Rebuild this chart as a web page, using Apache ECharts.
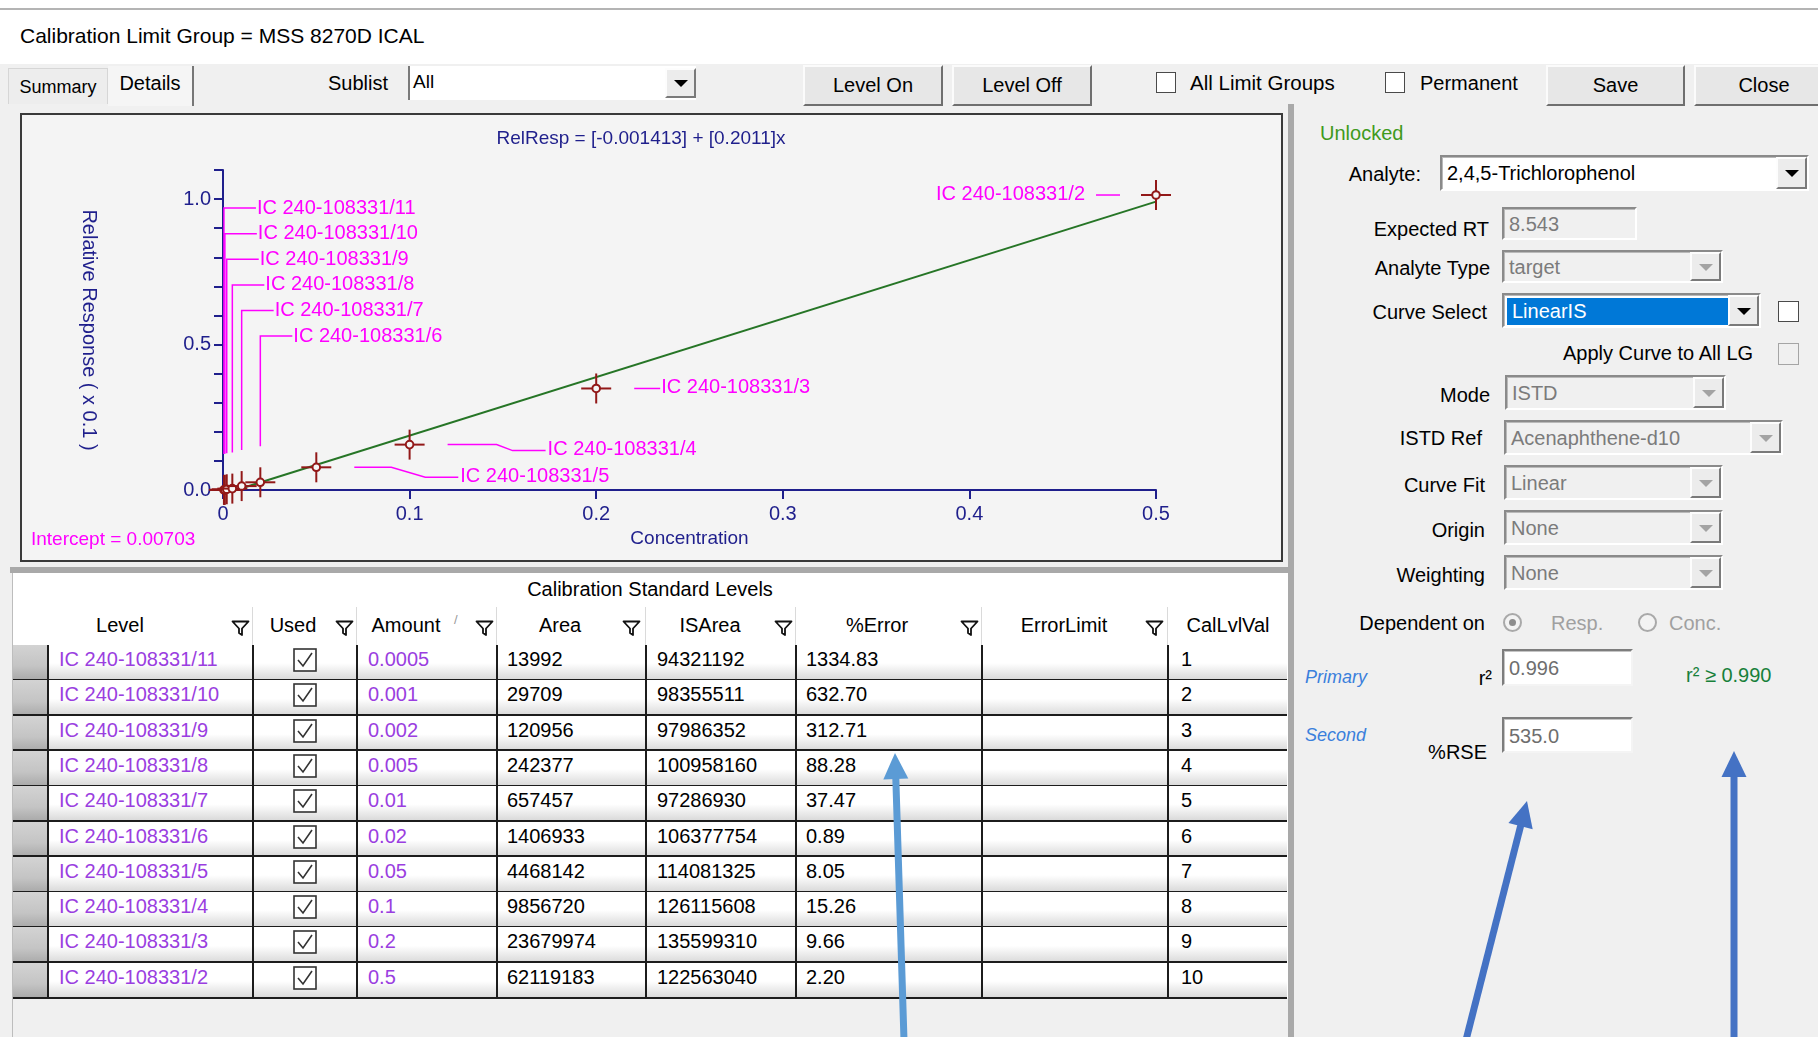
<!DOCTYPE html>
<html>
<head>
<meta charset="utf-8">
<title>Calibration Limit Group = MSS 8270D ICAL</title>
<script src="https://cdn.jsdelivr.net/npm/echarts@6/dist/echarts.min.js"></script>
<style>
  * { box-sizing: border-box; }
  body { margin: 0; width: 1818px; height: 1037px; overflow: hidden; position: relative;
         background: #fff; font-family: "Liberation Sans", Arial, sans-serif; font-size: 20px; color: #000; }
  .a { position: absolute; white-space: nowrap; line-height: 24px; height: 24px; }
  .r { text-align: right; }
  .bg { position: absolute; }
  .btn { position: absolute; background: #e7e7e7; border: 2px solid; border-color: #fbfbfb #6f6f6f #6f6f6f #fbfbfb;
         display: flex; align-items: center; justify-content: center; font-size: 20px; }
  .chk { position: absolute; background: #fff; border: 1.5px solid #4a4a4a; }
  .chk.dis { background: #f0f0f0; border-color: #a5a5a5; }
  .combo { position: absolute; background: #f0f0f0; border: 2px solid; border-color: #8a8a8a #ffffff #ffffff #8a8a8a;
           box-shadow: inset 1px 1px 0 #b9b9b9; }
  .combo.white { background: #fff; }
  .combo .txt { position: absolute; left: 5px; top: 50%; transform: translateY(-50%); line-height: 24px; color: #7b7b7b; }
  .combo.white .txt { color: #000; }
  .dd { position: absolute; right: 0; top: 0; bottom: 0; width: 31px; background: #ececec;
        border: 2px solid; border-color: #fdfdfd #7a7a7a #7a7a7a #fdfdfd; }
  .dd::after { content: ""; position: absolute; left: 50%; top: 50%; margin-left: -7px; margin-top: -3px;
               border-left: 7px solid transparent; border-right: 7px solid transparent; border-top: 7px solid #000; }
  .dd.dis::after { border-top-color: #a3a3a3; }
  .inp { position: absolute; background: #fff; border: 2px solid; border-color: #7d7d7d #f4f4f4 #f4f4f4 #7d7d7d;
         box-shadow: inset 1px 1px 0 #c4c4c4; }
  .inp .txt { position: absolute; left: 5px; line-height: 24px; color: #6e6e6e; }
  .radio { position: absolute; width: 19px; height: 19px; border-radius: 50%; border: 2px solid #a9a9a9; background: #f3f3f3; }
  .radio.on::after { content: ""; position: absolute; left: 4px; top: 4px; width: 7px; height: 7px; border-radius: 50%; background: #8d8d8d; }
  #table .cell { position: absolute; line-height: 24px; white-space: nowrap; }
</style>
</head>
<body>

<!-- window chrome -->
<div class="bg" style="left:0;top:8px;width:1818px;height:2px;background:#b4b4b4"></div>
<div class="a" style="left:20px;top:24px;font-size:21px">Calibration Limit Group = MSS 8270D ICAL</div>

<div class="bg" style="left:0;top:64px;width:1818px;height:973px;background:#f0f0f0"></div>

<!-- tabs and toolbar -->
<div class="bg" style="left:8px;top:68px;width:100px;height:36px;background:#ededed;border:1px solid #d6d6d6;border-bottom:none"></div>
<div class="a" style="left:8px;top:75px;width:100px;text-align:center;font-size:18px">Summary</div>
<div class="bg" style="left:108px;top:66px;width:86px;height:40px;background:#f5f5f5;border-right:2px solid #777"></div>
<div class="a" style="left:108px;top:71px;width:84px;text-align:center">Details</div>

<div class="a r" style="right:1430px;top:71px">Sublist</div>
<div class="bg" style="left:408px;top:66px;width:288px;height:34px;background:#fff;border-left:2px solid #7a7a7a"></div>
<div class="a" style="left:413px;top:70px;font-size:19px">All</div>
<div class="dd" style="left:665px;top:68px;width:31px;height:30px;right:auto;bottom:auto"></div>

<div class="btn" style="left:803px;top:65px;width:140px;height:41px">Level On</div>
<div class="btn" style="left:952px;top:65px;width:140px;height:41px">Level Off</div>
<div class="chk" style="left:1156px;top:72px;width:20px;height:21px"></div>
<div class="a" style="left:1190px;top:71px;font-size:20.5px">All Limit Groups</div>
<div class="chk" style="left:1385px;top:72px;width:20px;height:21px"></div>
<div class="a" style="left:1420px;top:71px">Permanent</div>
<div class="btn" style="left:1546px;top:65px;width:139px;height:41px">Save</div>
<div class="btn" style="left:1694px;top:65px;width:140px;height:41px">Close</div>

<!-- plot frame -->
<div class="bg" style="left:20px;top:113px;width:1263px;height:449px;border:2px solid #3a3a3a;background:#f4f4f4"></div>
<div id="plot" style="position:absolute;left:22px;top:115px;width:1259px;height:445px"></div>

<!-- splitters -->
<div class="bg" style="left:1288px;top:104px;width:6px;height:933px;background:#a9a9a9"></div>
<div class="bg" style="left:10px;top:567px;width:1278px;height:6px;background:#a9a9a9"></div>

<!-- levels table -->
<div class="bg" style="left:12px;top:573px;width:1276px;height:464px;background:#fff;border-left:1px solid #bdbdbd"></div>
<div class="bg" style="left:13px;top:998px;width:1275px;height:39px;background:#f0f0f0"></div>
<div id="table"></div>

<!-- analyte settings -->
<div class="a" style="left:1320px;top:121px;color:#3f9a1c">Unlocked</div>

<div class="a r" style="right:397px;top:162px">Analyte:</div>
<div class="combo white" style="left:1440px;top:155px;width:369px;height:36px"><span class="txt">2,4,5-Trichlorophenol</span><div class="dd"></div></div>

<div class="a r" style="right:329px;top:217px">Expected RT</div>
<div class="combo" style="left:1502px;top:207px;width:135px;height:33px"><span class="txt" style="top:3px;transform:none">8.543</span></div>

<div class="a r" style="right:328px;top:256px">Analyte Type</div>
<div class="combo" style="left:1502px;top:250px;width:221px;height:33px"><span class="txt">target</span><div class="dd dis"></div></div>

<div class="a r" style="right:331px;top:300px">Curve Select</div>
<div class="combo white" style="left:1502px;top:293px;width:259px;height:35px">
  <div style="position:absolute;left:3px;top:3px;width:222px;height:27px;background:#0078d7"></div>
  <span class="txt" style="color:#fff;left:8px">LinearIS</span><div class="dd"></div></div>
<div class="chk" style="left:1778px;top:301px;width:21px;height:21px"></div>

<div class="a" style="left:1563px;top:341px">Apply Curve to All LG</div>
<div class="chk dis" style="left:1778px;top:343px;width:21px;height:22px"></div>

<div class="a r" style="right:328px;top:383px">Mode</div>
<div class="combo" style="left:1505px;top:375px;width:221px;height:35px"><span class="txt">ISTD</span><div class="dd dis"></div></div>

<div class="a r" style="right:336px;top:426px">ISTD Ref</div>
<div class="combo" style="left:1504px;top:420px;width:279px;height:35px"><span class="txt">Acenaphthene-d10</span><div class="dd dis"></div></div>

<div class="a r" style="right:333px;top:473px">Curve Fit</div>
<div class="combo" style="left:1504px;top:465px;width:219px;height:35px"><span class="txt">Linear</span><div class="dd dis"></div></div>

<div class="a r" style="right:333px;top:518px">Origin</div>
<div class="combo" style="left:1504px;top:510px;width:219px;height:35px"><span class="txt">None</span><div class="dd dis"></div></div>

<div class="a r" style="right:333px;top:563px">Weighting</div>
<div class="combo" style="left:1504px;top:555px;width:219px;height:35px"><span class="txt">None</span><div class="dd dis"></div></div>

<div class="a r" style="right:333px;top:611px">Dependent on</div>
<div class="radio on" style="left:1503px;top:613px"></div>
<div class="a" style="left:1551px;top:611px;color:#a0a0a0">Resp.</div>
<div class="radio" style="left:1638px;top:613px"></div>
<div class="a" style="left:1669px;top:611px;color:#a0a0a0">Conc.</div>

<div class="a" style="left:1305px;top:665px;color:#3a7fdc;font-style:italic;font-size:18px">Primary</div>
<div class="a r" style="right:326px;top:666px">r²</div>
<div class="inp" style="left:1502px;top:649px;width:131px;height:37px"><span class="txt" style="top:5px">0.996</span></div>
<div class="a" style="left:1686px;top:663px;color:#17803a">r² ≥ 0.990</div>

<div class="a" style="left:1305px;top:723px;color:#3a7fdc;font-style:italic;font-size:18px">Second</div>
<div class="a r" style="right:331px;top:740px">%RSE</div>
<div class="inp" style="left:1502px;top:717px;width:131px;height:36px"><span class="txt" style="top:5px">535.0</span></div>

<svg id="arrows" width="1818" height="1037" style="position:absolute;left:0;top:0;pointer-events:none"></svg>

<script>
// ---- calibration levels ----
const levels = ['IC 240-108331/11', 'IC 240-108331/10', 'IC 240-108331/9', 'IC 240-108331/8', 'IC 240-108331/7',
                'IC 240-108331/6', 'IC 240-108331/5', 'IC 240-108331/4', 'IC 240-108331/3', 'IC 240-108331/2'];
const amounts = [0.0005, 0.001, 0.002, 0.005, 0.01, 0.02, 0.05, 0.1, 0.2, 0.5];
const amountText = ['0.0005', '0.001', '0.002', '0.005', '0.01', '0.02', '0.05', '0.1', '0.2', '0.5'];
const areas = [13992, 29709, 120956, 242377, 657457, 1406933, 4468142, 9856720, 23679974, 62119183];
const isAreas = [94321192, 98355511, 97986352, 100958160, 97286930, 106377754, 114081325, 126115608, 135599310, 122563040];
const pctError = ['1334.83', '632.70', '312.71', '88.28', '37.47', '0.89', '8.05', '15.26', '9.66', '2.20'];
const calLvlVal = [1, 2, 3, 4, 5, 6, 7, 8, 9, 10];

// relative response of each level (axis units: x 0.1)
const relResp = [0.0003, 0.0006, 0.0025, 0.0048, 0.0135, 0.0265, 0.078, 0.156, 0.349, 1.014];

// linear fit: RelResp = [a] + [b]x, drawn from its x-intercept to the top level
const coefA = '-0.001413';
const coefB = '0.2011';
const interceptX = 0.00703;
const fitLine = [[0.00703, 0], [0.5, 0.9914]];

const xTickLabels = ['0', '0.1', '0.2', '0.3', '0.4', '0.5'];
const yTickLabels = ['0.0', '0.5', '1.0'];

// ---- table ----
const colEdges = [13, 48, 253, 357, 497, 646, 796, 982, 1168, 1287];
const headers = [
  { text: 'Level', cx: 120, icon: 240 },
  { text: 'Used', cx: 293, icon: 344 },
  { text: 'Amount', cx: 406, icon: 484, sort: 457 },
  { text: 'Area', cx: 560, icon: 631 },
  { text: 'ISArea', cx: 710, icon: 783 },
  { text: '%Error', cx: 877, icon: 969 },
  { text: 'ErrorLimit', cx: 1064, icon: 1154 },
  { text: 'CalLvlVal', cx: 1228 }
];
const PURPLE = '#9a3ee0';
const funnel = '<svg width="19" height="16" viewBox="0 0 19 16"><path d="M1.5 1.5 H17.5 L11 8.5 V15 L8 13 V8.5 Z" fill="none" stroke="#111" stroke-width="1.8" stroke-linejoin="round"/></svg>';
const tickBox = '<svg width="24" height="24" viewBox="0 0 24 24"><rect x="1" y="1" width="22" height="22" fill="#fff" stroke="#333" stroke-width="1.6"/><path d="M5 12 L10 18 L19 5" fill="none" stroke="#333" stroke-width="1.6"/></svg>';

(function buildTable() {
  const t = document.getElementById('table');
  let h = '';
  h += '<div class="cell" style="left:13px;top:577px;width:1274px;text-align:center">Calibration Standard Levels</div>';
  for (const c of headers) {
    h += `<div class="cell" style="left:${c.cx - 80}px;top:613px;width:160px;text-align:center">${c.text}</div>`;
    if (c.icon) h += `<div style="position:absolute;left:${c.icon - 9}px;top:618px;width:19px;height:16px">${funnel}</div>`;
    if (c.sort) h += `<div class="cell" style="left:${c.sort - 3}px;top:608px;font-size:13px;color:#999">/</div>`;
  }
  for (let i = 2; i < colEdges.length - 1; i++) {
    h += `<div style="position:absolute;left:${colEdges[i] - 1}px;top:607px;width:1px;height:38px;background:#dadada"></div>`;
  }
  const top0 = 645, rh = 35.3;
  for (let i = 0; i < levels.length; i++) {
    const y = top0 + i * rh;
    h += `<div style="position:absolute;left:13px;top:${y}px;width:1274px;height:${rh}px;background:linear-gradient(#ffffff 0%,#ffffff 52%,#d8d8d8 100%)"></div>`;
    h += `<div style="position:absolute;left:13px;top:${y}px;width:35px;height:${rh}px;background:linear-gradient(#d3d3d3 0%,#c4c4c4 60%,#a9a9a9 100%)"></div>`;
    h += `<div style="position:absolute;left:13px;top:${y + rh - 1.5}px;width:1274px;height:2px;background:#1c1c1c"></div>`;
    const ty = y + 2;
    h += `<div class="cell" style="left:59px;top:${ty}px;color:${PURPLE}">${levels[i]}</div>`;
    h += `<div style="position:absolute;left:293px;top:${y + 3}px;width:24px;height:24px">${tickBox}</div>`;
    h += `<div class="cell" style="left:368px;top:${ty}px;color:${PURPLE}">${amountText[i]}</div>`;
    h += `<div class="cell" style="left:507px;top:${ty}px">${areas[i]}</div>`;
    h += `<div class="cell" style="left:657px;top:${ty}px">${isAreas[i]}</div>`;
    h += `<div class="cell" style="left:806px;top:${ty}px">${pctError[i]}</div>`;
    h += `<div class="cell" style="left:1181px;top:${ty}px">${calLvlVal[i]}</div>`;
  }
  const bottom = top0 + levels.length * rh;
  for (let i = 1; i < colEdges.length - 1; i++) {
    h += `<div style="position:absolute;left:${colEdges[i] - 1}px;top:${top0}px;width:2px;height:${bottom - top0}px;background:#1c1c1c"></div>`;
  }
  t.innerHTML = h;
})();

// ---- annotation arrows ----
(function drawArrows() {
  const arrows = [
    { from: [904, 1040], to: [895, 753], color: '#5b9bd5' },
    { from: [1466, 1040], to: [1527, 801], color: '#4472c4' },
    { from: [1734, 1040], to: [1734, 751], color: '#4472c4' }
  ];
  const svg = document.getElementById('arrows');
  let s = '';
  for (const a of arrows) {
    const dx = a.to[0] - a.from[0], dy = a.to[1] - a.from[1];
    const len = Math.hypot(dx, dy), ux = dx / len, uy = dy / len, nx = -uy, ny = ux;
    const headL = 26, headW = 12.5;
    const bx = a.to[0] - ux * headL, by = a.to[1] - uy * headL;
    s += `<line x1="${a.from[0]}" y1="${a.from[1]}" x2="${bx + ux * 2}" y2="${by + uy * 2}" stroke="${a.color}" stroke-width="7"/>`;
    s += `<polygon points="${a.to[0]},${a.to[1]} ${bx + nx * headW},${by + ny * headW} ${bx - nx * headW},${by - ny * headW}" fill="${a.color}"/>`;
  }
  svg.innerHTML = s;
})();

// ---- calibration curve plot ----
const NAVY = '#1f1f8c';
const MAGENTA = '#ff00ff';
const MARKER = '#921818';
const FONT = 'Liberation Sans';

// where each level's tag sits relative to its point
const labelLayout = [
  { kind: 'stack', row: 0 }, { kind: 'stack', row: 1 }, { kind: 'stack', row: 2 },
  { kind: 'stack', row: 3 }, { kind: 'stack', row: 4 }, { kind: 'stack', row: 5 },
  { kind: 'elbow', run: 37, slant: 34, drop: 10, tail: 33 },
  { kind: 'elbow', run: 49, slant: 16, drop: 6, tail: 33 },
  { kind: 'right' },
  { kind: 'left' }
];

const points = amounts.map((a, i) => [a, relResp[i]]);

function tagText(x, y, text, align) {
  return { type: 'text', style: { x, y, text, fill: MAGENTA, fontSize: 20, fontFamily: FONT,
           align, textAlign: align, verticalAlign: 'middle', textVerticalAlign: 'middle' } };
}
function tagLine(pts) {
  return { type: 'polyline', shape: { points: pts }, style: { stroke: MAGENTA, lineWidth: 1.5, fill: 'none' } };
}

function renderTag(params, api) {
  const i = params.dataIndex;
  const p = api.coord([api.value(0), api.value(1)]);
  const lay = labelLayout[i];
  const name = levels[i];
  const kids = [];
  if (lay.kind === 'stack') {
    const yTop = api.coord([0, 1.0])[1];
    const y = yTop + 9 + lay.row * 25.6;
    kids.push(tagLine([[p[0], p[1] - 36], [p[0], y], [p[0] + 32, y]]));
    kids.push(tagText(p[0] + 33, y, name, 'left'));
  } else if (lay.kind === 'elbow') {
    const x1 = p[0] + 38, x2 = x1 + lay.run, x3 = x2 + lay.slant, x4 = x3 + lay.tail;
    const y2 = p[1] + lay.drop;
    kids.push(tagLine([[x1, p[1]], [x2, p[1]], [x3, y2], [x4, y2]]));
    kids.push(tagText(x4 + 2, y2 - 1, name, 'left'));
  } else if (lay.kind === 'right') {
    kids.push(tagLine([[p[0] + 38, p[1]], [p[0] + 64, p[1]]]));
    kids.push(tagText(p[0] + 65, p[1] - 1, name, 'left'));
  } else {
    kids.push(tagLine([[p[0] - 60, p[1]], [p[0] - 36, p[1]]]));
    kids.push(tagText(p[0] - 71, p[1] - 1, name, 'right'));
  }
  return { type: 'group', children: kids };
}

function renderMarker(params, api) {
  const p = api.coord([api.value(0), api.value(1)]);
  const arm = 15;
  const st = { stroke: MARKER, lineWidth: 2 };
  return { type: 'group', children: [
    { type: 'line', shape: { x1: p[0] - arm, y1: p[1], x2: p[0] + arm, y2: p[1] }, style: st },
    { type: 'line', shape: { x1: p[0], y1: p[1] - arm, x2: p[0], y2: p[1] + arm }, style: st },
    { type: 'circle', shape: { cx: p[0], cy: p[1], r: 3.8 }, style: { fill: '#f6f6f6', stroke: MARKER, lineWidth: 2 } }
  ] };
}

function nearTick(v, list) {
  for (const s of list) if (Math.abs(v - parseFloat(s)) < 1e-6) return s;
  return '';
}

const chart = echarts.init(document.getElementById('plot'), null, { renderer: 'canvas' });
chart.setOption({
  animation: false,
  backgroundColor: '#f4f4f4',
  grid: { left: 201, right: 125, top: 55, bottom: 70 },
  graphic: [
    { type: 'text', x: 619, y: 24,
      style: { text: `RelResp = [${coefA}] + [${coefB}]x`, fill: NAVY, fontSize: 19, fontFamily: FONT,
               align: 'center', textAlign: 'center', verticalAlign: 'middle', textVerticalAlign: 'middle' } },
    { type: 'text', x: 9, y: 425,
      style: { text: `Intercept = ${interceptX}`, fill: MAGENTA, fontSize: 19, fontFamily: FONT,
               verticalAlign: 'middle', textVerticalAlign: 'middle' } }
  ],
  xAxis: {
    type: 'value', min: 0, max: 0.5, interval: 0.1,
    name: 'Concentration', nameLocation: 'middle', nameGap: 35,
    nameTextStyle: { color: NAVY, fontSize: 19, fontFamily: FONT },
    axisLine: { show: true, onZero: false, lineStyle: { color: NAVY, width: 2 } },
    axisTick: { show: true, length: 9, lineStyle: { color: NAVY, width: 2 } },
    axisLabel: { color: NAVY, fontSize: 20, fontFamily: FONT, margin: 14,
                 formatter: v => nearTick(v, xTickLabels) },
    splitLine: { show: false }
  },
  yAxis: {
    type: 'value', min: 0, max: 1.1, interval: 0.1,
    name: 'Relative Response ( x 0.1 )', nameLocation: 'middle', nameRotate: -90, nameGap: 124,
    nameTextStyle: { color: NAVY, fontSize: 20, fontFamily: FONT },
    axisLine: { show: true, onZero: false, lineStyle: { color: NAVY, width: 2 } },
    axisTick: { show: true, length: 9, lineStyle: { color: NAVY, width: 2 } },
    axisLabel: { color: NAVY, fontSize: 20, fontFamily: FONT, margin: 12, showMaxLabel: true,
                 formatter: v => nearTick(v, yTickLabels) },
    splitLine: { show: false }
  },
  series: [
    { type: 'line', data: fitLine, symbol: 'none', z: 2,
      lineStyle: { color: '#267526', width: 2, type: 'solid' } },
    { type: 'custom', data: points, renderItem: renderTag, clip: false, z: 3 },
    { type: 'custom', data: points, renderItem: renderMarker, clip: false, z: 4 }
  ]
});
</script>
</body>
</html>
